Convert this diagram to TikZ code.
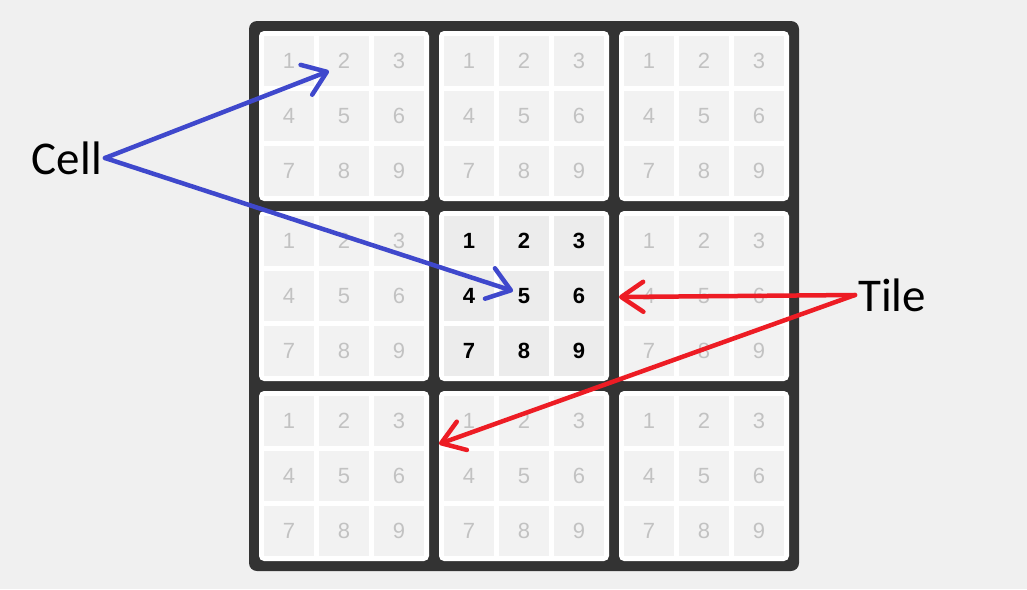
\documentclass[tikz,border=0pt]{standalone}
\usepackage{fontspec}
\setmainfont{Liberation Sans}
\newfontfamily\labelfont{Carlito}
\usetikzlibrary{arrows.meta}
\definecolor{bgc}{HTML}{F0F0F0}
\definecolor{boardc}{HTML}{333333}
\definecolor{cellc}{HTML}{F2F2F2}
\definecolor{cellhi}{HTML}{ECECEC}
\definecolor{fadetxt}{HTML}{C2C2C2}
\definecolor{paintblue}{HTML}{3F48CC}
\definecolor{paintred}{HTML}{ED1C24}
\tikzset{
  boardbox/.style={draw=none,fill=boardc,rounded corners=8pt,minimum width=550pt,minimum height=550pt,inner sep=0pt},
  tilebox/.style={draw=none,fill=white,rounded corners=5pt,minimum width=170pt,minimum height=170pt,inner sep=0pt},
  fadecell/.style={draw=none,fill=cellc,minimum width=50pt,minimum height=50pt,inner sep=0pt,text=fadetxt,font=\fontsize{22}{24}\selectfont},
  hicell/.style={draw=none,fill=cellhi,minimum width=50pt,minimum height=50pt,inner sep=0pt,text=black,font=\fontsize{22}{24}\selectfont\bfseries},
  biglabel/.style={inner sep=3pt,font=\labelfont\fontsize{47}{50}\selectfont,text=black},
  bluearrow/.style={draw=paintblue,line width=4.5pt,line cap=round,line join=round,-{Straight Barb[length=22pt,width=32pt,round]}},
  redarrow/.style={draw=paintred,line width=4.5pt,line cap=round,line join=round,-{Straight Barb[length=22pt,width=30pt,round]}}
}
\begin{document}
\begin{tikzpicture}[x=1pt,y=-1pt]
\useasboundingbox (0,0) rectangle (1027,589);
\fill[bgc] (0,0) rectangle (1027,589);
\node[boardbox] (board) at (524,296) {};
\foreach \i in {0,1,2}{
  \foreach \j in {0,1,2}{
    \node[tilebox] (t-\i-\j) at ({344+180*\i},{116+180*\j}) {};
    \pgfmathtruncatemacro\isc{(\i==1)&&(\j==1)}
    \foreach \b in {0,1,2}{
      \foreach \a in {0,1,2}{
        \pgfmathtruncatemacro\n{3*\b+\a+1}
        \ifnum\isc=1
          \node[hicell] (c-\i-\j-\n) at ({289+180*\i+55*\a},{61+180*\j+55*\b}) {\n};
        \else
          \node[fadecell] (c-\i-\j-\n) at ({289+180*\i+55*\a},{61+180*\j+55*\b}) {\n};
        \fi
      }
    }
  }
}
\node[biglabel,anchor=east] (cell) at (105,158) {Cell};
\node[biglabel,anchor=west] (tile) at (855,295) {Tile};
\coordinate (tipA) at (329,71);
\coordinate (tipB) at (513,291);
\coordinate (tipC) at (619,297);
\coordinate (tipD) at (439,444);
\draw[bluearrow] (cell.east) -- (tipA);
\draw[bluearrow] (cell.east) -- (tipB);
\draw[redarrow] (tile.west) -- (tipC);
\draw[redarrow] (tile.west) -- (tipD);
\end{tikzpicture}
\end{document}
